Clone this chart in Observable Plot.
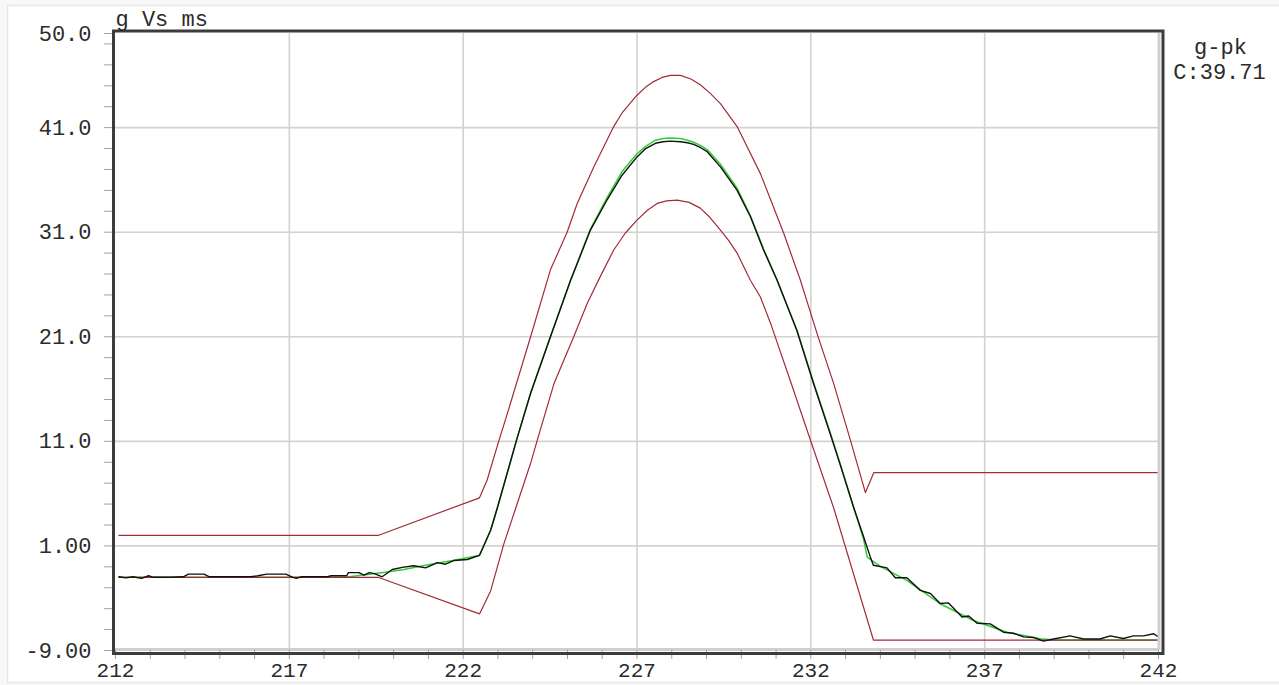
<!DOCTYPE html>
<html>
<head>
<meta charset="utf-8">
<script src="https://cdn.jsdelivr.net/npm/d3@7"></script>
<script src="https://cdn.jsdelivr.net/npm/@observablehq/plot@0.6"></script>
<style>
  html, body { margin: 0; padding: 0; background: #ffffff; overflow: hidden; }
  #chart svg { display: block; }
</style>
</head>
<body>
<div id="chart"></div>
<script>
// ---- Texts ----
const titleText = "g Vs ms";
const legendName = "g-pk";
const legendValue = "C:39.71";

// ---- Axis ticks and labels ----
const xMajor = [212, 217, 222, 227, 232, 237, 242];
const xMajorLabels = ["212", "217", "222", "227", "232", "237", "242"];
const yMajor = [-9, 1, 11, 21, 31, 41, 50];
const yMajorLabels = ["-9.00", "1.00", "11.0", "21.0", "31.0", "41.0", "50.0"];
const xGrid = [217, 222, 227, 232, 237];
const yGrid = [1, 11, 21, 31, 41];

// ---- Upper corridor (ms, g) ----
const upperT = [212.1, 219.55, 222.47, 222.69, 223.03, 223.27, 223.94, 224.51, 224.99, 225.28, 225.76, 226.33, 226.57, 227.0, 227.24, 227.48, 227.72, 227.96, 228.25, 228.55, 228.82, 229.1, 229.40, 229.88, 230.55, 231.22, 231.70, 232.18, 232.66, 233.14, 233.57, 233.81, 242.0];
const upperG = [2.0, 2.0, 5.6, 7.3, 11.1, 13.65, 21.0, 27.4, 31.0, 33.75, 37.25, 41.1, 42.4, 44.1, 44.85, 45.4, 45.8, 46.0, 46.0, 45.65, 45.1, 44.3, 43.3, 41.1, 36.6, 30.9, 26.4, 21.3, 16.5, 11.1, 6.1, 8.0, 8.0];

// ---- Lower corridor (ms, g) ----
const lowerT = [212.1, 219.55, 222.47, 222.79, 223.17, 223.51, 223.94, 224.13, 224.61, 225.18, 225.57, 225.95, 226.33, 226.66, 227.0, 227.3, 227.58, 227.85, 228.15, 228.5, 228.82, 229.1, 229.40, 229.64, 229.88, 230.26, 230.55, 230.84, 231.41, 231.99, 232.66, 233.80, 242.0];
const lowerG = [-2.0, -2.0, -5.5, -3.3, 1.2, 4.6, 8.9, 11.1, 16.5, 21.0, 24.2, 26.8, 29.3, 30.9, 32.15, 33.1, 33.75, 34.0, 34.06, 33.85, 33.3, 32.4, 31.2, 30.2, 29.0, 26.4, 24.8, 22.3, 16.8, 11.1, 4.6, -8.0, -8.0];

// ---- Measured signal, black (ms, g) ----
const sigT = [212.1, 212.3, 212.5, 212.75, 212.95, 213.1, 213.6, 213.95, 214.1, 214.55, 214.7, 215.9, 216.1, 216.35, 216.9, 217.1, 217.2, 217.35, 218.1, 218.2, 218.65, 218.7, 219.0, 219.15, 219.3, 219.45, 219.67, 219.96, 220.25, 220.58, 220.92, 221.26, 221.49, 221.73, 222.12, 222.47, 222.79, 222.98, 223.56, 223.94, 224.51, 225.09, 225.66, 226.14, 226.57, 227.0, 227.25, 227.53, 227.75, 227.96, 228.25, 228.45, 228.63, 228.82, 229.02, 229.40, 229.88, 230.26, 230.64, 231.03, 231.60, 232.08, 232.56, 232.85, 233.23, 233.52, 233.71, 233.80, 234.19, 234.43, 234.76, 235.15, 235.44, 235.72, 235.96, 236.35, 236.54, 236.78, 237.16, 237.54, 237.83, 238.12, 238.40, 238.69, 238.98, 239.46, 239.84, 240.13, 240.32, 240.61, 240.99, 241.28, 241.57, 241.86, 242.0];
const sigG = [-1.95, -2.05, -1.95, -2.1, -1.85, -2.0, -2.0, -1.95, -1.7, -1.7, -1.95, -1.95, -1.85, -1.7, -1.7, -2.0, -2.1, -1.95, -1.95, -1.85, -1.85, -1.55, -1.55, -1.8, -1.55, -1.65, -1.95, -1.25, -1.05, -0.9, -1.1, -0.6, -0.75, -0.4, -0.3, 0.1, 2.5, 4.6, 11.4, 15.6, 21.0, 26.4, 31.2, 34.1, 36.45, 38.2, 39.0, 39.5, 39.65, 39.71, 39.65, 39.55, 39.4, 39.1, 38.7, 37.25, 35.0, 32.5, 29.3, 26.4, 21.6, 16.5, 11.7, 8.7, 4.7, 1.85, -0.05, -0.85, -1.1, -2.05, -2.05, -3.25, -3.55, -4.5, -4.45, -5.8, -5.7, -6.4, -6.45, -7.25, -7.35, -7.7, -7.75, -8.1, -7.9, -7.6, -7.9, -7.9, -7.9, -7.6, -7.85, -7.6, -7.6, -7.4, -7.7];

// ---- Fitted curve, green (ms, g) ----
const fitT = [212.1, 218.6, 219.2, 219.8, 220.3, 220.77, 221.16, 221.7, 222.12, 222.47, 222.79, 222.98, 223.56, 223.94, 224.51, 225.09, 225.66, 226.14, 226.57, 227.0, 227.25, 227.53, 227.75, 227.96, 228.25, 228.45, 228.63, 228.82, 229.02, 229.40, 229.88, 230.26, 230.64, 231.03, 231.60, 232.08, 232.56, 232.85, 233.23, 233.52, 233.62, 234.0, 234.76, 235.72, 236.68, 237.64, 238.6, 239.0, 242.0];
const fitG = [-2.0, -2.0, -1.75, -1.5, -1.25, -0.95, -0.7, -0.4, -0.13, 0.1, 2.5, 4.6, 11.4, 15.6, 21.0, 26.4, 31.3, 34.3, 36.8, 38.5, 39.2, 39.8, 39.95, 40.0, 39.95, 39.8, 39.6, 39.3, 38.9, 37.5, 35.2, 32.6, 29.4, 26.4, 21.6, 16.6, 11.8, 8.8, 4.7, 1.6, -0.07, -0.96, -2.3, -4.53, -6.13, -7.25, -7.88, -8.0, -8.0];

const pairs = (t, g) => t.map((v, i) => [v, g[i]]);

const xTicks = d3.range(212, 243, 1);
const yTicks = d3.range(-9, 50, 2).concat([50]);

const font = "'Courier New', 'Liberation Mono', monospace";
const fs = 22;
const textColor = "#2b2b2b";
const tickColor = "#a0a0a0";
const gridColor = "#d2d2d2";
const corridorColor = "#a12c38";

const chart = Plot.plot({
  width: 1279,
  height: 685,
  marginLeft: 115,
  marginRight: 121,
  marginTop: 33,
  marginBottom: 35,
  x: {domain: [212, 242]},
  y: {domain: [-9, 50]},
  style: {fontFamily: font, fontSize: fs + "px", color: textColor, background: "transparent"},
  marks: [
    Plot.ruleX(xGrid, {stroke: gridColor, strokeWidth: 1.6}),
    Plot.ruleY(yGrid, {stroke: gridColor, strokeWidth: 1.6}),
    Plot.line(pairs(fitT, fitG), {stroke: "#33cc33", strokeWidth: 1.5}),
    Plot.line(pairs(upperT, upperG), {stroke: corridorColor, strokeWidth: 1.2}),
    Plot.line(pairs(lowerT, lowerG), {stroke: corridorColor, strokeWidth: 1.2}),
    Plot.line(pairs(sigT, sigG), {stroke: "#111111", strokeWidth: 1.4}),
    Plot.ruleX([242], {stroke: "#cfcfcf", strokeWidth: 3, dx: 0.5}),
    Plot.ruleY([-9], {stroke: "#cfcfcf", strokeWidth: 3, dy: -1}),
    Plot.axisX({
      ticks: xTicks, tickSize: 9, tickPadding: 3, fontSize: 21,
      stroke: tickColor, fill: textColor,
      tickFormat: (d) => { const i = xMajor.indexOf(d); return i >= 0 ? xMajorLabels[i] : ""; }
    }),
    Plot.axisY({
      ticks: yTicks, tickSize: 11, tickPadding: 13, fontSize: fs,
      stroke: tickColor, fill: textColor,
      tickFormat: (d) => { const i = yMajor.indexOf(d); return i >= 0 ? yMajorLabels[i] : ""; }
    }),
    Plot.frame({stroke: "#3c3c3c", strokeWidth: 3, insetLeft: -2, insetTop: -2.5, insetRight: -4.5, insetBottom: -3}),
    Plot.text([titleText], {frameAnchor: "top-left", textAnchor: "start", lineAnchor: "middle", dy: -14.5, fontSize: fs, fill: textColor}),
    Plot.text([legendName], {frameAnchor: "top-right", textAnchor: "middle", lineAnchor: "middle", dx: 62, dy: 13, fontSize: fs, fill: textColor}),
    Plot.text([legendValue], {frameAnchor: "top-right", textAnchor: "middle", lineAnchor: "middle", dx: 61, dy: 38, fontSize: fs, fill: textColor})
  ]
});

// light outer border of the picture
const svg = d3.select(chart);
svg.insert("rect", ":first-child")
  .attr("x", 7.5).attr("y", 5.5).attr("width", 1300).attr("height", 677)
  .attr("fill", "#ffffff").attr("stroke", "#e6e6e6").attr("stroke-width", 1.5);
svg.insert("rect", ":first-child")
  .attr("x", 0).attr("y", 0).attr("width", 1279).attr("height", 685)
  .attr("fill", "#f8f8f8");

document.getElementById("chart").appendChild(chart);
</script>
</body>
</html>
